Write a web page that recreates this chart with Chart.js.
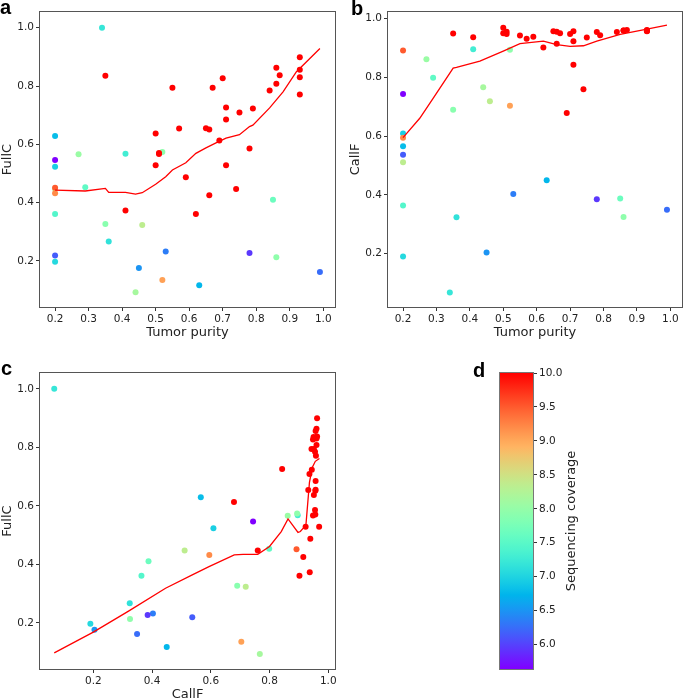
<!DOCTYPE html>
<html>
<head>
<meta charset="utf-8">
<title>FullC / CallF vs tumor purity</title>
<script src="https://cdn.jsdelivr.net/npm/chart.js@4.4.1/dist/chart.umd.min.js"></script>
<style>
  html, body { margin: 0; padding: 0; background: #fff; overflow: hidden; }
  canvas.panel { position: absolute; left: 0; top: 0; }
</style>
</head>
<body>
<canvas id="panel-a" class="panel" width="685" height="699"></canvas>
<canvas id="panel-b" class="panel" width="685" height="699"></canvas>
<canvas id="panel-c" class="panel" width="685" height="702"></canvas>
<canvas id="panel-d" class="panel" width="685" height="699"></canvas>
<script>
// one entry per sample (first 26 low coverage, then 31 high coverage)
const purity = [0.20, 0.20, 0.20, 0.20, 0.20, 0.20, 0.20, 0.20, 0.20, 0.27, 0.29, 0.34, 0.35, 0.36, 0.41, 0.44, 0.45, 0.46, 0.52, 0.52, 0.53, 0.63, 0.78, 0.85, 0.86, 0.99,
  0.35, 0.41, 0.50, 0.50, 0.51, 0.51, 0.55, 0.57, 0.59, 0.62, 0.65, 0.66, 0.66, 0.67, 0.69, 0.70, 0.71, 0.71, 0.71, 0.74, 0.75, 0.78, 0.79, 0.84, 0.86, 0.86, 0.87, 0.93, 0.93, 0.93, 0.93];
const fullC = [0.629, 0.546, 0.523, 0.447, 0.451, 0.432, 0.361, 0.219, 0.197, 0.566, 0.453, 1.000, 0.327, 0.267, 0.568, 0.093, 0.176, 0.323, 0.574, 0.135, 0.232, 0.117, 0.227, 0.410, 0.213, 0.162,
  0.835, 0.373, 0.637, 0.528, 0.570, 0.567, 0.794, 0.654, 0.487, 0.361, 0.655, 0.651, 0.425, 0.794, 0.613, 0.827, 0.726, 0.685, 0.528, 0.447, 0.709, 0.586, 0.723, 0.785, 0.863, 0.808, 0.837, 0.899, 0.856, 0.830, 0.771];
const callF = [0.566, 0.744, 0.609, 0.511, 0.892, 0.595, 0.364, 0.537, 0.190, 0.862, 0.799, 0.067, 0.690, 0.324, 0.896, 0.767, 0.204, 0.719, 0.894, 0.704, 0.403, 0.450, 0.385, 0.388, 0.325, 0.349,
  0.950, 0.937, 0.951, 0.969, 0.956, 0.948, 0.943, 0.932, 0.939, 0.902, 0.957, 0.956, 0.915, 0.951, 0.679, 0.948, 0.843, 0.957, 0.923, 0.760, 0.936, 0.955, 0.944, 0.955, 0.960, 0.960, 0.962, 0.962, 0.957, 0.960, 0.958];
const coverage = [6.80, 5.64, 6.95, 8.35, 9.50, 9.20, 7.45, 6.15, 7.05, 8.05, 7.55, 7.20, 7.90, 7.15, 7.30, 8.15, 6.50, 8.35, 7.95, 9.05, 6.35, 6.75, 5.95, 7.65, 7.95, 6.25,
  10, 10, 10, 10, 10, 10, 10, 10, 10, 10,
  10, 10, 10, 10, 10, 10, 10, 10, 10, 10,
  10, 10, 10, 10, 10, 10, 10, 10, 10, 10, 10];

// lowess trend lines
const trendA_x = [0.20, 0.29, 0.35, 0.36, 0.41, 0.44, 0.46, 0.50, 0.53, 0.55, 0.59, 0.62, 0.65, 0.68, 0.71, 0.75, 0.78, 0.79, 0.84, 0.88, 0.92, 0.99];
const trendA_y = [0.443, 0.440, 0.449, 0.435, 0.435, 0.429, 0.434, 0.463, 0.489, 0.512, 0.537, 0.569, 0.588, 0.605, 0.621, 0.633, 0.661, 0.666, 0.725, 0.780, 0.849, 0.929];
const trendB_x = [0.20, 0.25, 0.29, 0.35, 0.36, 0.43, 0.50, 0.55, 0.62, 0.66, 0.70, 0.74, 0.78, 0.85, 0.93, 0.99];
const trendB_y = [0.595, 0.661, 0.729, 0.832, 0.834, 0.856, 0.890, 0.915, 0.924, 0.912, 0.906, 0.908, 0.924, 0.947, 0.965, 0.978];
const trendC_x = [0.067, 0.20, 0.32, 0.446, 0.537, 0.594, 0.68, 0.71, 0.76, 0.80, 0.84, 0.863, 0.897, 0.905, 0.924, 0.936, 0.946, 0.956, 0.97];
const trendC_y = [0.097, 0.168, 0.240, 0.318, 0.364, 0.392, 0.432, 0.434, 0.434, 0.461, 0.512, 0.555, 0.509, 0.512, 0.534, 0.680, 0.732, 0.752, 0.762];

const purityTicks = [0.2, 0.3, 0.4, 0.5, 0.6, 0.7, 0.8, 0.9, 1.0];
const fracTicks = [0.2, 0.4, 0.6, 0.8, 1.0];
const coverageTicks = [6.0, 6.5, 7.0, 7.5, 8.0, 8.5, 9.0, 9.5, 10.0];
const coverageRange = [5.64, 10.0];

Chart.defaults.font.family = '"DejaVu Sans", sans-serif';
Chart.defaults.color = '#222';

// matplotlib "rainbow" colormap
function rainbow(t) {
   t = Math.min(1, Math.max(0, t));
   const r = Math.min(1, Math.abs(2 * t - 0.5));
   const g = Math.max(0, Math.sin(Math.PI * t));
   const b = Math.max(0, Math.cos(Math.PI * t / 2));
   return `rgb(${Math.round(r * 255)}, ${Math.round(g * 255)}, ${Math.round(b * 255)})`;
}

function coverageColor(c) {
   return rainbow((c - coverageRange[0]) / (coverageRange[1] - coverageRange[0]));
}

const pointColors = coverage.map(coverageColor);

// box around the plot area, like the matplotlib spines
const framePlugin = {
   id: 'frame',
   afterDatasetsDraw(chart, args, opts) {
      const { left, top, right, bottom } = chart.chartArea;
      const ctx = chart.ctx;
      ctx.save();
      ctx.strokeStyle = opts.color || '#555';
      ctx.lineWidth = 1;
      ctx.strokeRect(Math.round(left) - 0.5, Math.round(top) - 0.5, Math.round(right - left) + 1, Math.round(bottom - top) + 1);
      ctx.restore();
   }
};

// panel letters and the colorbar label
const textPlugin = {
   id: 'texts',
   afterDraw(chart, args, opts) {
      const ctx = chart.ctx;
      (opts.items || []).forEach(it => {
         ctx.save();
         ctx.font = it.font;
         ctx.fillStyle = it.color || '#000';
         ctx.textAlign = it.align || 'left';
         ctx.textBaseline = it.baseline || 'alphabetic';
         ctx.translate(it.x, it.y);
         ctx.rotate(it.rotate || 0);
         ctx.fillText(it.text, 0, 0);
         ctx.restore();
      });
   }
};

function axis(min, max, tickValues, size, title, position) {
   return {
      type: 'linear',
      position: position,
      min: min,
      max: max,
      afterBuildTicks: s => { s.ticks = tickValues.map(v => ({ value: v })); },
      afterFit: s => { if (s.isHorizontal()) s.height = size; else s.width = size; },
      ticks: { font: { size: 10.5 }, color: '#222', padding: 2, autoSkip: false, maxRotation: 0, callback: v => v.toFixed(1) },
      grid: { drawOnChartArea: false, drawTicks: true, tickLength: 4, tickColor: '#333', color: '#333' },
      border: { display: false },
      title: { display: !!title, text: title, font: { size: 13 }, color: '#222', padding: 0 }
   };
}

function letter(text, x, y) {
   return { text: text, x: x, y: y, font: 'bold 20px "Liberation Sans", Arial, sans-serif' };
}

function scatterPanel(id, xs, ys, lineX, lineY, xRange, yRange, xTicks, xTitle, yTitle, padding, xHeight, label) {
   new Chart(document.getElementById(id), {
      type: 'scatter',
      data: {
         datasets: [
            {
               data: lineX.map((x, i) => ({ x: x, y: lineY[i] })),
               showLine: true,
               borderColor: '#ff0000',
               borderWidth: 1.3,
               pointRadius: 0,
               fill: false
            },
            {
               data: xs.map((x, i) => ({ x: x, y: ys[i] })),
               pointBackgroundColor: pointColors,
               pointBorderWidth: 0,
               pointRadius: 3,
               pointHoverRadius: 3
            }
         ]
      },
      options: {
         responsive: false,
         animation: false,
         events: [],
         layout: { padding: padding },
         plugins: {
            legend: { display: false },
            tooltip: { enabled: false },
            frame: {},
            texts: { items: [label] }
         },
         scales: {
            x: axis(xRange[0], xRange[1], xTicks, xHeight, xTitle, 'bottom'),
            y: axis(yRange[0], yRange[1], fracTicks, 40, yTitle, 'left')
         }
      },
      plugins: [framePlugin, textPlugin]
   });
}

// a: tumor purity vs FullC
scatterPanel('panel-a', purity, fullC, trendA_x, trendA_y, [0.155, 1.035], [0.042, 1.054], purityTicks,
   'Tumor purity', 'FullC', { left: 0, top: 12, right: 350, bottom: 359 }, 33, letter('a', 0, 13.5));

// b: tumor purity vs CallF
scatterPanel('panel-b', purity, callF, trendB_x, trendB_y, [0.155, 1.035], [0.018, 1.023], purityTicks,
   'Tumor purity', 'CallF', { left: 348, top: 12, right: 2, bottom: 359 }, 33, letter('b', 351, 15));

// c: CallF vs FullC
scatterPanel('panel-c', callF, fullC, trendC_x, trendC_y, [0.0185, 1.023], [0.042, 1.054], fracTicks,
   'CallF', 'FullC', { left: 0, top: 373, right: 350, bottom: 0 }, 33, letter('c', 1, 375));

// d: colorbar for sequencing coverage
new Chart(document.getElementById('panel-d'), {
   type: 'bar',
   data: {
      labels: [''],
      datasets: [{
         data: [coverageRange],
         barPercentage: 1,
         categoryPercentage: 1,
         borderWidth: 0,
         backgroundColor: c => {
            const chart = c.chart;
            if (!chart.chartArea) return 'rgba(0,0,0,0)';
            const ys = chart.scales.y;
            const g = chart.ctx.createLinearGradient(0, ys.getPixelForValue(coverageRange[0]), 0, ys.getPixelForValue(coverageRange[1]));
            for (let i = 0; i <= 40; i++) g.addColorStop(i / 40, rainbow(i / 40));
            return g;
         }
      }]
   },
   options: {
      responsive: false,
      animation: false,
      events: [],
      layout: { padding: { left: 500, top: 373, right: 0, bottom: 30 } },
      plugins: {
         legend: { display: false },
         tooltip: { enabled: false },
         frame: { color: '#777' },
         texts: {
            items: [
               letter('d', 473, 376.5),
               { text: 'Sequencing coverage', x: 572, y: 521, rotate: -Math.PI / 2, align: 'center', baseline: 'middle', font: '13px "DejaVu Sans", sans-serif', color: '#222' }
            ]
         }
      },
      scales: {
         x: { display: false },
         y: axis(coverageRange[0], coverageRange[1], coverageTicks, 152, '', 'right')
      }
   },
   plugins: [framePlugin, textPlugin]
});
</script>
</body>
</html>
